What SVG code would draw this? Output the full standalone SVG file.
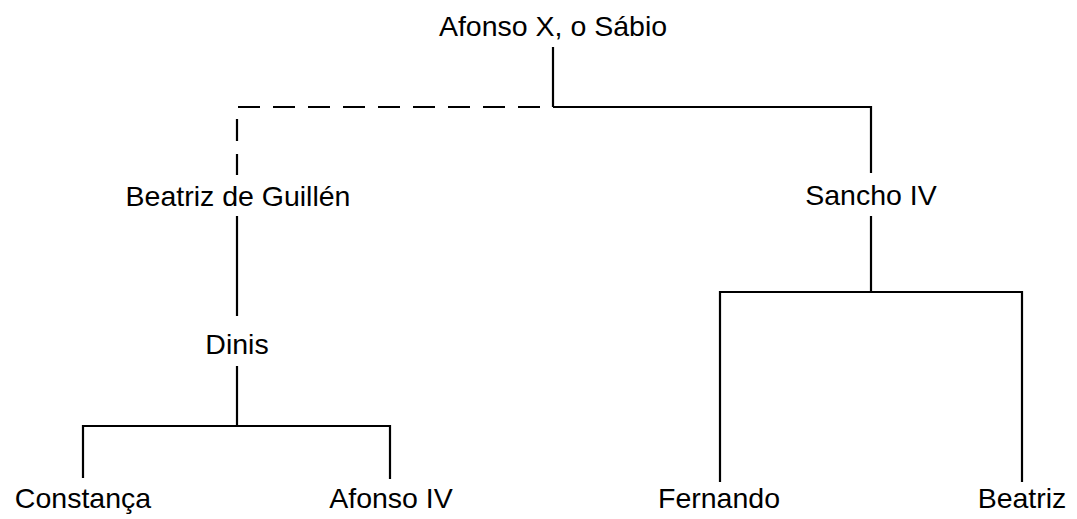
<svg xmlns="http://www.w3.org/2000/svg" width="1077" height="519" viewBox="0 0 1077 519">
<style>
.t{font-family:"Liberation Sans",Arial,sans-serif;font-size:28.5px;fill:#000;text-anchor:middle}
.l{stroke:#000;stroke-width:2.2;fill:none}
.d{stroke-dasharray:22 13;stroke-dashoffset:22}
</style>
<rect width="1077" height="519" fill="#fff"/>
<g id="connectors">
<path class="l" d="M553,47 V107"/>
<path class="l d" d="M553,107 H237 V175"/>
<path class="l" d="M553,107 H871 V173"/>
<path class="l" d="M871,216 V292"/>
<path class="l" d="M720,482 V292 H1022 V482"/>
<path class="l" d="M237,216 V316"/>
<path class="l" d="M237,366 V426"/>
<path class="l" d="M83,478 V426 H390 V479"/>
</g>
<g id="afonso-x"><text class="t" x="553" y="36">Afonso X, o Sábio</text></g>
<g id="beatriz-de-guillen"><text class="t" x="238" y="206">Beatriz de Guillén</text></g>
<g id="sancho-iv"><text class="t" x="871" y="205">Sancho IV</text></g>
<g id="dinis"><text class="t" x="237" y="354">Dinis</text></g>
<g id="constanca"><text class="t" x="83" y="508">Constança</text></g>
<g id="afonso-iv"><text class="t" x="391" y="508">Afonso IV</text></g>
<g id="fernando"><text class="t" x="719" y="508">Fernando</text></g>
<g id="beatriz"><text class="t" x="1022" y="508">Beatriz</text></g>
</svg>
